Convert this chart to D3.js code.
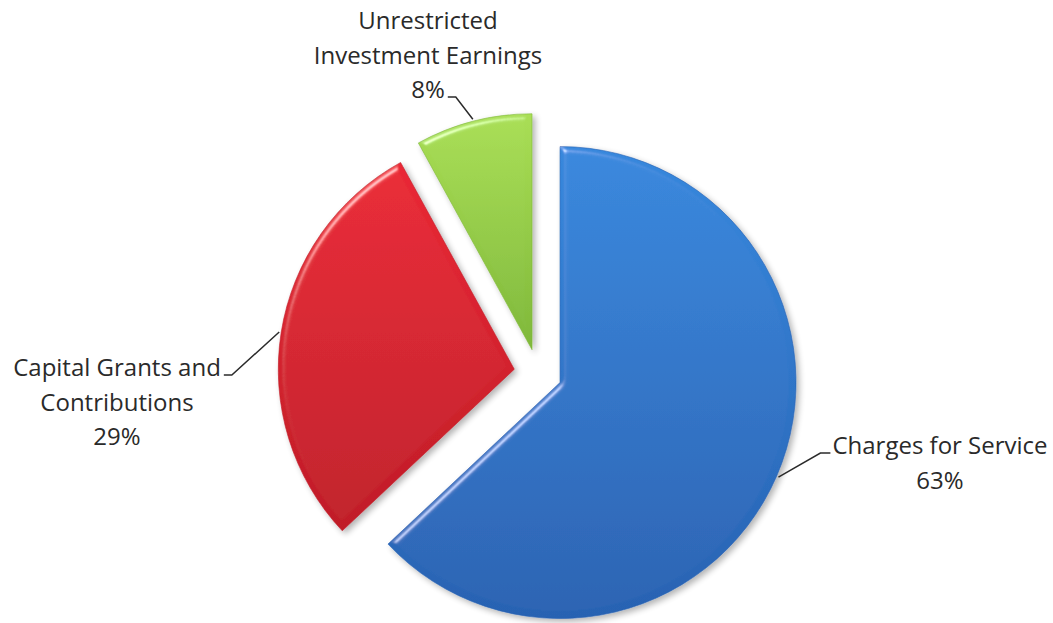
<!DOCTYPE html>
<html>
<head>
<meta charset="utf-8">
<script src="https://cdn.jsdelivr.net/npm/d3@7"></script>
<style>
  body { margin: 0; background: #fff; }
  .label { font-family: "Open Sans", sans-serif; font-size: 24px; fill: #2a2a2a; }
</style>
</head>
<body>
<div id="wrapper"></div>
<script>
// Revenue shares (percent)
const categories = ["Charges for Service", "Capital Grants and Contributions", "Unrestricted Investment Earnings"];
const shares = [63, 29, 8];
const labelLines = [
  ["Charges for Service"],
  ["Capital Grants and", "Contributions"],
  ["Unrestricted", "Investment Earnings"],
];
const sliceColors = [
  ["#3788dd", "#2862b2"],
  ["#ea2835", "#c01d28"],
  ["#a9de55", "#7fb83a"],
];

function drawPie() {
  const dimensions = { width: 1053, height: 623 };
  const center = [538, 373];
  const radius = 236;
  const explode = 24;

  const svg = d3.select("#wrapper").append("svg")
    .attr("width", dimensions.width)
    .attr("height", dimensions.height);

  const defs = svg.append("defs");

  sliceColors.forEach((c, i) => {
    const g = defs.append("linearGradient")
      .attr("id", `grad-${i}`)
      .attr("x1", 0).attr("y1", 0).attr("x2", 0).attr("y2", 1);
    g.append("stop").attr("offset", "0%").attr("stop-color", c[0]);
    g.append("stop").attr("offset", "100%").attr("stop-color", c[1]);
  });

  // bevel-ish edge highlight + soft shadow, like the office 3D pie
  const bevel = defs.append("filter").attr("id", "bevel")
    .attr("x", "-10%").attr("y", "-10%").attr("width", "120%").attr("height", "120%");
  bevel.append("feGaussianBlur").attr("in", "SourceAlpha").attr("stdDeviation", 3).attr("result", "blur");
  const spec = bevel.append("feSpecularLighting")
    .attr("in", "blur").attr("surfaceScale", 4).attr("specularConstant", 0.7)
    .attr("specularExponent", 45).attr("lighting-color", "#ffffff").attr("result", "spec");
  spec.append("feDistantLight").attr("azimuth", 235).attr("elevation", 40);
  bevel.append("feComposite").attr("in", "spec").attr("in2", "SourceAlpha").attr("operator", "in").attr("result", "specIn");
  bevel.append("feComposite").attr("in", "SourceGraphic").attr("in2", "specIn")
    .attr("operator", "arithmetic").attr("k1", 0).attr("k2", 1).attr("k3", 0.7).attr("k4", 0).attr("result", "lit");
  bevel.append("feOffset").attr("in", "SourceAlpha").attr("dx", 3).attr("dy", 3).attr("result", "off");
  bevel.append("feGaussianBlur").attr("in", "off").attr("stdDeviation", 3).attr("result", "shadowBlur");
  bevel.append("feComponentTransfer").attr("in", "shadowBlur").attr("result", "shadow")
    .append("feFuncA").attr("type", "linear").attr("slope", 0.3);
  const merge = bevel.append("feMerge");
  merge.append("feMergeNode").attr("in", "shadow");
  merge.append("feMergeNode").attr("in", "lit");

  const pie = d3.pie().sort(null).value(d => d);
  const arcs = pie(shares);

  const arc = d3.arc().innerRadius(0).outerRadius(radius);

  const midAngle = d => (d.startAngle + d.endAngle) / 2;
  const offsetOf = d => [explode * Math.sin(midAngle(d)), -explode * Math.cos(midAngle(d))];

  const bounds = svg.append("g")
    .attr("transform", `translate(${center[0]}, ${center[1]})`);

  bounds.selectAll(".slice")
    .data(arcs)
    .join("path")
      .attr("class", "slice")
      .attr("transform", d => `translate(${offsetOf(d)})`)
      .attr("d", arc)
      .attr("fill", (d, i) => `url(#grad-${i})`)
      .attr("stroke", (d, i) => sliceColors[i][1])
      .attr("stroke-width", 0.6)
      .attr("filter", "url(#bevel)");

  // label layout: where the text block sits, relative to the arc edge point
  const labelLayout = [
    { anchorX: 940, baseline: 454, side: "right" },
    { anchorX: 117, baseline: 376, side: "left" },
    { anchorX: 428, baseline: 29, side: "left" },
  ];
  const lineGap = 34.5;

  arcs.forEach((d, i) => {
    const lay = labelLayout[i];
    const lines = labelLines[i].concat([`${shares[i]}%`]);
    const text = svg.append("text")
      .attr("class", "label")
      .attr("text-anchor", "middle");
    lines.forEach((t, j) => {
      text.append("tspan")
        .attr("x", lay.anchorX)
        .attr("y", lay.baseline + j * lineGap)
        .text(t);
    });

    // line the leader attaches to: last line for the top label, first otherwise
    const attachIdx = i === 2 ? lines.length - 1 : 0;
    const tspan = text.selectAll("tspan").nodes()[attachIdx];
    const w = tspan.getComputedTextLength();
    const ly = lay.baseline + attachIdx * lineGap - 1;

    const off = offsetOf(d);
    const a = midAngle(d);
    const edge = [
      center[0] + off[0] + (radius + 2) * Math.sin(a),
      center[1] + off[1] - (radius + 2) * Math.cos(a),
    ];
    const endX = lay.side === "right" ? lay.anchorX - w / 2 - 2 : lay.anchorX + w / 2 + 3;
    const elbowX = lay.side === "right" ? endX - 10 : endX + 8;

    svg.append("path")
      .attr("d", d3.line()([edge, [elbowX, ly], [endX, ly]]))
      .attr("fill", "none")
      .attr("stroke", "#2b2b2b")
      .attr("stroke-width", 1.5);
  });
}
drawPie();
</script>
</body>
</html>
